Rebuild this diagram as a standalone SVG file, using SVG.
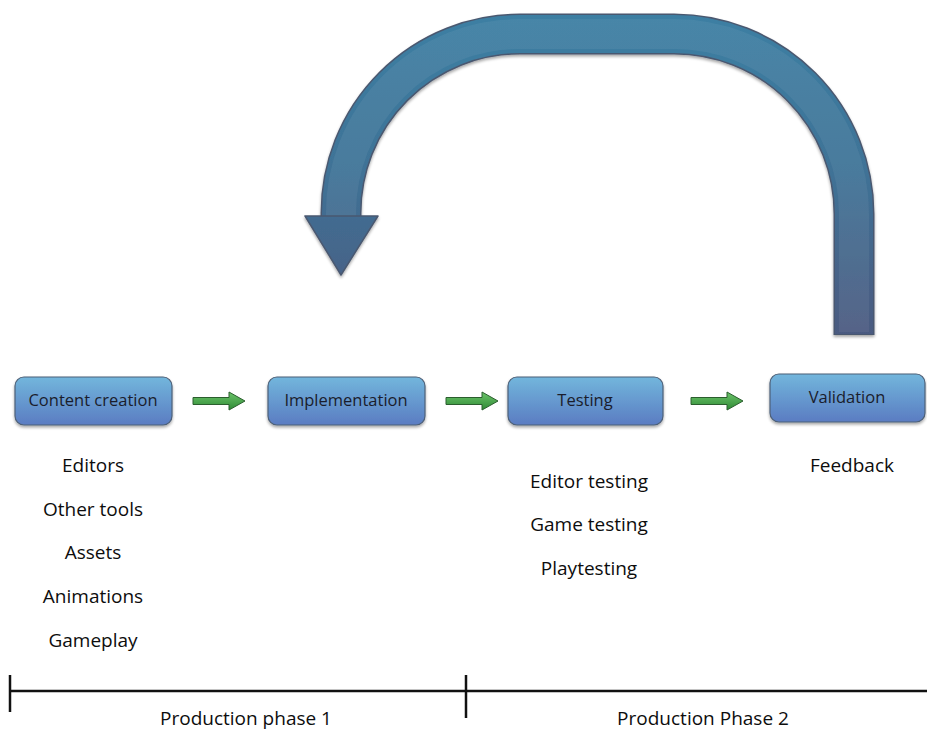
<svg xmlns="http://www.w3.org/2000/svg" width="927" height="731" viewBox="0 0 927 731">
<defs>
<linearGradient id="boxg" x1="0" y1="0" x2="0" y2="1">
<stop offset="0" stop-color="#72b6dc"/>
<stop offset="1" stop-color="#5a7cc2"/>
</linearGradient>
<linearGradient id="bigg" gradientUnits="userSpaceOnUse" x1="0" y1="13" x2="0" y2="335">
<stop offset="0" stop-color="#3c7fa3"/>
<stop offset="0.5" stop-color="#3f7296"/>
<stop offset="1" stop-color="#4b5a80"/>
</linearGradient>
<linearGradient id="greeng" x1="0" y1="0" x2="0" y2="1">
<stop offset="0" stop-color="#6cc46a"/>
<stop offset="1" stop-color="#2f8a35"/>
</linearGradient>
<filter id="sh" x="-10%" y="-20%" width="120%" height="150%">
<feGaussianBlur in="SourceAlpha" stdDeviation="1.5"/>
<feOffset dx="0" dy="2" result="b"/>
<feComponentTransfer><feFuncA type="linear" slope="0.35"/></feComponentTransfer>
<feMerge><feMergeNode/><feMergeNode in="SourceGraphic"/></feMerge>
</filter>
<g id="garrow">
<path d="M0,-3.5 H36 V-9 L52,0 L36,9 V3.5 H0 Z" fill="url(#greeng)" stroke="#2b5e2e" stroke-width="1" stroke-linejoin="round"/>
</g>
</defs>
<style>
.box{fill:url(#boxg);stroke:#4d6078;stroke-width:1.2;filter:url(#sh)}
.bl{font-family:"Open Sans","Liberation Sans",sans-serif;font-size:16.5px;fill:#1a1d2c;text-anchor:middle}
.t{font-family:"Open Sans","Liberation Sans",sans-serif;font-size:19px;fill:#0d0d0d;text-anchor:middle}
.tl{stroke:#111;stroke-width:2.5;fill:none}
</style>

<g id="loop-arrow" filter="url(#sh)">
<path d="M341,218 V213 A179,179 0 0 1 520,34 H674 A180,180 0 0 1 854,214 V335" fill="none" stroke="#4a5870" stroke-width="41"/>
<path d="M341,218 V213 A179,179 0 0 1 520,34 H674 A180,180 0 0 1 854,214 V334" fill="none" stroke="url(#bigg)" stroke-width="38"/>
<path d="M341,216 V213 A179,179 0 0 1 520,34 H674 A180,180 0 0 1 854,214 V332" fill="none" stroke="#ffffff" stroke-opacity="0.06" stroke-width="30"/>
<path d="M305,216 L378,216 L341,275 Z" fill="url(#bigg)" stroke="#4a5870" stroke-width="1.5" stroke-linejoin="round"/>
</g>

<g id="connectors">
<use href="#garrow" x="193" y="401"/>
<use href="#garrow" x="446" y="401"/>
<use href="#garrow" x="691" y="401"/>
</g>

<g id="content-creation">
<rect class="box" x="15" y="377" width="157" height="48" rx="9"/>
<text class="bl" x="93" y="406">Content creation</text>
</g>
<g id="implementation">
<rect class="box" x="268" y="377" width="157" height="48" rx="9"/>
<text class="bl" x="346" y="406">Implementation</text>
</g>
<g id="testing">
<rect class="box" x="508" y="377" width="155" height="48" rx="9"/>
<text class="bl" x="585" y="406">Testing</text>
</g>
<g id="validation">
<rect class="box" x="770" y="374" width="155" height="48" rx="9"/>
<text class="bl" x="847" y="403">Validation</text>
</g>

<g id="content-list">
<text class="t" x="93" y="472">Editors</text>
<text class="t" x="93" y="516">Other tools</text>
<text class="t" x="93" y="559">Assets</text>
<text class="t" x="93" y="603">Animations</text>
<text class="t" x="93" y="647">Gameplay</text>
</g>
<g id="testing-list">
<text class="t" x="589" y="488">Editor testing</text>
<text class="t" x="589" y="531">Game testing</text>
<text class="t" x="589" y="575">Playtesting</text>
</g>
<g id="validation-list">
<text class="t" x="852" y="472">Feedback</text>
</g>

<g id="timeline">
<line class="tl" x1="10" y1="691" x2="927" y2="691"/>
<line class="tl" x1="10" y1="675" x2="10" y2="712" stroke-width="2"/>
<line class="tl" x1="466" y1="675" x2="466" y2="718" stroke-width="2"/>
<text class="t" x="246" y="725">Production phase 1</text>
<text class="t" x="703" y="725">Production Phase 2</text>
</g>
</svg>
